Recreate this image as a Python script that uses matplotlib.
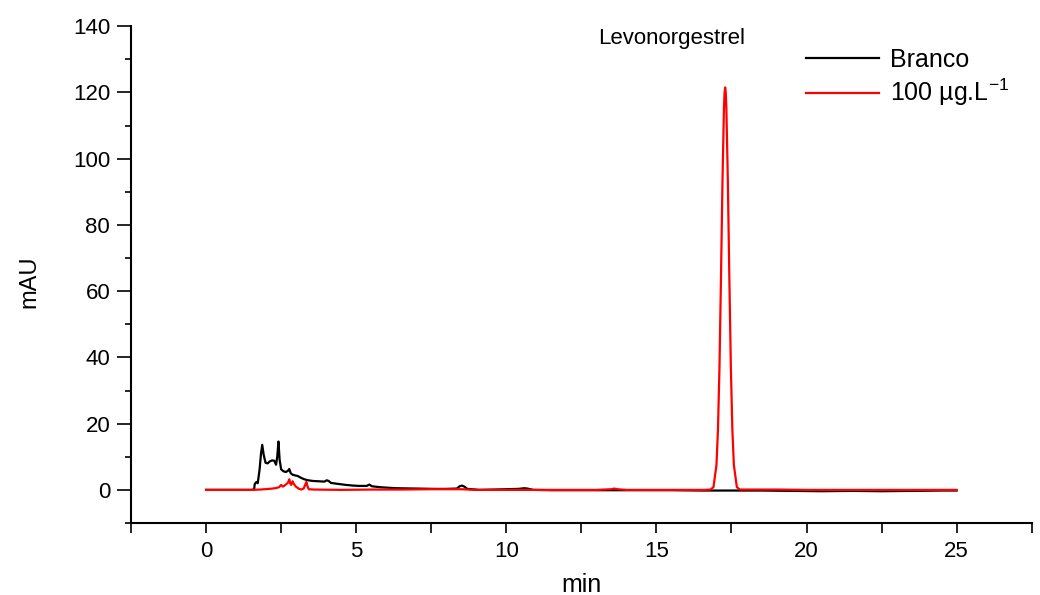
import matplotlib.pyplot as plt
from matplotlib.ticker import MultipleLocator

plt.rcParams["font.family"] = ["Liberation Sans", "DejaVu Sans"]
plt.rcParams["mathtext.fontset"] = "custom"
plt.rcParams["mathtext.rm"] = "Liberation Sans"
plt.rcParams["mathtext.it"] = "Liberation Sans"
plt.rcParams["mathtext.bf"] = "Liberation Sans:bold"

# Branco (blank injection), time in min / absorbance in mAU
blank_t = [0.0, 1.5, 1.6, 1.62, 1.68, 1.72, 1.78, 1.83, 1.87, 1.92, 1.98, 2.05,
           2.12, 2.2, 2.27, 2.33, 2.37, 2.41, 2.45, 2.5, 2.58, 2.66, 2.73, 2.77,
           2.82, 2.88, 2.95, 3.05, 3.15, 3.27, 3.4, 3.55, 3.75, 3.94, 4.02, 4.08,
           4.16, 4.4, 4.66, 4.9, 5.1, 5.35, 5.44, 5.52, 5.8, 6.33, 7.0, 7.6, 8.0,
           8.35, 8.45, 8.52, 8.6, 8.7, 9.1, 9.6, 10.0, 10.4, 10.6, 10.7, 10.9,
           11.5, 12.5, 13.5, 14.5, 15.5, 16.5, 17.5, 18.5, 19.5, 20.5, 21.5,
           22.5, 23.5, 24.5, 25.0]
blank_mau = [0.0, 0.0, 0.1, 1.8, 2.4, 2.0, 6.0, 11.0, 13.6, 10.5, 8.2, 8.0,
             8.6, 8.9, 8.8, 7.6, 10.0, 14.6, 9.0, 6.2, 5.6, 5.4, 5.8, 6.3,
             5.0, 4.6, 4.4, 4.2, 3.7, 3.2, 2.9, 2.7, 2.6, 2.5, 2.9, 2.7,
             2.1, 1.8, 1.5, 1.3, 1.2, 1.2, 1.6, 1.1, 0.8, 0.5, 0.4, 0.3, 0.3,
             0.4, 1.1, 1.3, 1.0, 0.3, 0.0, 0.1, 0.2, 0.3, 0.5, 0.4, 0.0,
             -0.1, -0.1, -0.1, -0.1, -0.1, -0.2, -0.2, -0.2, -0.3, -0.4, -0.3,
             -0.4, -0.3, -0.2, -0.2]

# 100 ug/L levonorgestrel standard
std_t = [0.0, 1.5, 1.8, 2.1, 2.3, 2.43, 2.5, 2.55, 2.6, 2.68, 2.73, 2.77, 2.8,
         2.83, 2.88, 2.92, 2.99, 3.08, 3.16, 3.25, 3.3, 3.34, 3.38, 3.42, 3.6,
         4.5, 5.5, 6.5, 7.5, 8.5, 9.0, 10.0, 11.0, 12.0, 13.0, 13.5, 13.6, 13.7,
         14.0, 15.0, 16.0, 16.6, 16.8, 16.9, 17.0, 17.05, 17.1, 17.15, 17.2,
         17.25, 17.27, 17.29, 17.31, 17.33, 17.38, 17.43, 17.48, 17.53, 17.58,
         17.68, 17.78, 18.0, 19.0, 20.0, 21.0, 22.0, 23.0, 24.0, 25.0]
std_mau = [0.0, 0.0, 0.1, 0.3, 0.5, 0.8, 1.5, 1.0, 1.2, 1.8, 2.2, 3.2, 2.0,
           1.5, 2.6, 1.8, 1.0, 0.4, 0.1, 0.4, 1.5, 2.4, 1.0, 0.2, 0.1,
           0.0, 0.1, 0.1, 0.2, 0.2, 0.0, 0.0, 0.0, 0.0, 0.0, 0.2, 0.4, 0.2,
           0.0, 0.0, 0.0, 0.0, 0.1, 0.8, 7.5, 18.1, 36.8, 63.6, 92.9,
           115.3, 119.9, 121.5, 119.9, 115.3, 92.9, 63.6, 36.8, 18.1, 7.5,
           0.8, 0.1, 0.1, 0.1, 0.0, 0.0, 0.0, 0.0, 0.0, 0.0]

fig = plt.figure(figsize=(10.4, 5.95), dpi=100)
ax = fig.add_axes([0.126, 0.121, 0.866, 0.835])

ax.plot(blank_t, blank_mau, color="black", lw=1.6, label="Branco")
ax.plot(std_t, std_mau, color="#ff0000", lw=1.6, label="100 µg.L$^{-1}$")

ax.set_xlim(-2.5, 27.5)
ax.set_ylim(-10, 140)
ax.xaxis.set_major_locator(MultipleLocator(5))
ax.xaxis.set_minor_locator(MultipleLocator(2.5))
ax.yaxis.set_major_locator(MultipleLocator(20))
ax.yaxis.set_minor_locator(MultipleLocator(10))

for side in ("top", "right"):
    ax.spines[side].set_visible(False)
for side in ("left", "bottom"):
    ax.spines[side].set_linewidth(1.5)

ax.tick_params(axis="both", which="major", direction="out", width=1.2,
               labelsize=16)
ax.tick_params(axis="y", which="major", length=10, pad=5)
ax.tick_params(axis="y", which="minor", direction="out", length=4.5, width=1.2)
ax.tick_params(axis="x", which="major", length=7, pad=6)
ax.tick_params(axis="x", which="minor", direction="out", length=7, width=1.2)

ax.set_xlabel("min", fontsize=18)
ax.set_ylabel("mAU", fontsize=17)
ax.xaxis.set_label_coords(0.5, -0.1)
ax.yaxis.set_label_coords(-0.101, 0.485)

ax.text(15.5, 136.3, "Levonorgestrel", fontsize=16, ha="center", va="center")

ax.legend(loc="upper left", bbox_to_anchor=(0.775, 0.92),
          bbox_transform=fig.transFigure, frameon=False, fontsize=18,
          handlelength=2.9, handletextpad=0.45, labelspacing=0.22,
          borderpad=0, borderaxespad=0)

fig.savefig("out.png", dpi=100)
